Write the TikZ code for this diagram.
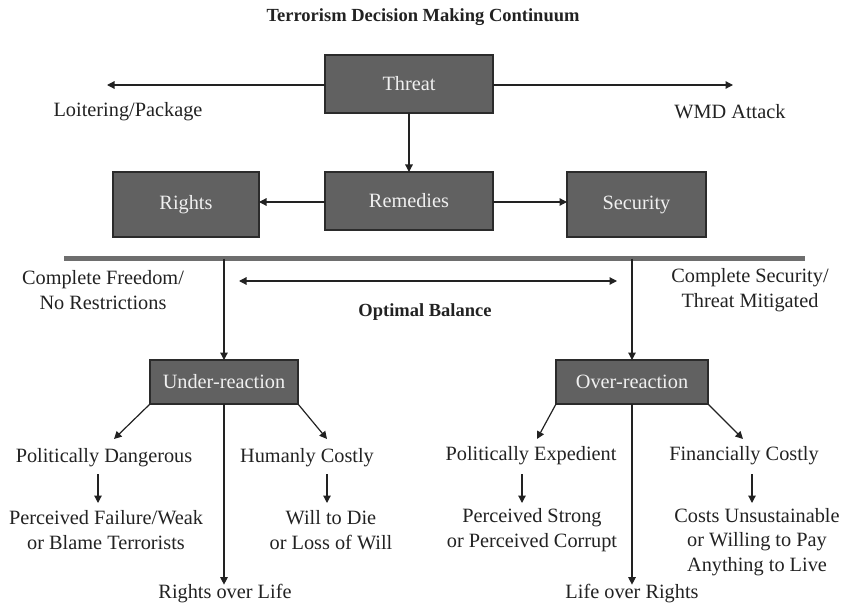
\documentclass[tikz,border=0pt]{standalone}
\usepackage{fontspec}
\setmainfont{Liberation Serif}
\usetikzlibrary{arrows.meta}
\definecolor{boxfill}{HTML}{616161}
\definecolor{boxline}{HTML}{2B2B2B}
\definecolor{barline}{HTML}{6E6E6E}
\definecolor{ink}{HTML}{222222}
\begin{document}
\begin{tikzpicture}[x=1pt,y=-1pt,
  every node/.style={inner sep=0pt, outer sep=0pt, text=ink,
    font=\fontsize{20.3}{24.5}\selectfont},
  darkbox/.style={draw=boxline, line width=1.3pt, fill=boxfill,
    text=white!94!black, align=center},
  lbl/.style={align=center},
  arr/.style={draw=ink, line width=1.2pt, -{Triangle[length=7.5pt,width=7.5pt]}},
  dblarr/.style={draw=ink, line width=1.2pt,
    {Triangle[length=7.5pt,width=7.5pt]}-{Triangle[length=7.5pt,width=7.5pt]}},
  plain/.style={draw=ink, line width=1.2pt}]
\useasboundingbox (0,0) rectangle (846,607);

% title
\node (title) at (423,17) {\bfseries\fontsize{18.5}{22}\selectfont Terrorism Decision Making Continuum};

% upper boxes
\node[darkbox, minimum width=168pt, minimum height=58pt] (threat) at (409,84) {Threat};
\node[darkbox, minimum width=168pt, minimum height=58pt] (remedies) at (409,201) {Remedies};
\node[darkbox, minimum width=146pt, minimum height=65pt] (rights) at (186,204.5) {Rights};
\node[darkbox, minimum width=139pt, minimum height=65pt] (security) at (636.5,204.5) {Security};

% threat range
\coordinate (tl) at (107,85);
\coordinate (tr) at (733,85);
\draw[arr] (threat.west |- tl) -- (tl);
\draw[arr] (threat.east |- tr) -- (tr);
\node (loiter) at (128,112) {Loitering/Package};
\node (wmd) at (730,112) {WMD Attack};

\draw[arr] (threat) -- (remedies);
\draw[arr] (remedies.west |- 0,202) -- (rights.east |- 0,202);
\draw[arr] (remedies.east |- 0,202) -- (security.west |- 0,202);

% continuum bar
\coordinate (barL) at (64,258.5);
\coordinate (barR) at (805,258.5);
\draw[barline, line width=5pt] (barL) -- (barR);

\node[lbl] (freedom) at (103,290) {Complete Freedom/\\No Restrictions};
\node[lbl] (secure) at (750,290) {Complete Security/\\Threat Mitigated};
\coordinate (balL) at (239,281);
\coordinate (balR) at (617,281);
\draw[dblarr] (balL) -- (balR);
\node (optimal) at (425,312) {\bfseries\fontsize{18.5}{22}\selectfont Optimal Balance};

% reaction boxes
\node[darkbox, minimum width=148pt, minimum height=44pt] (under) at (224,382) {Under-reaction};
\node[darkbox, minimum width=152pt, minimum height=44pt] (over) at (632,382) {Over-reaction};
\draw[arr] (under.north |- barL) -- (under.north);
\draw[arr] (over.north |- barL) -- (over.north);

% under-reaction branch
\node (pdanger) at (104,458) {Politically Dangerous};
\node (hcost) at (307,458) {Humanly Costly};
\node[lbl] (pfail) at (106,530) {Perceived Failure/Weak\\or Blame Terrorists};
\node[lbl] (wdie) at (331,530) {Will to Die\\or Loss of Will};
\node (rlife) at (225,594) {Rights over Life};
\draw[arr] (under.south west) -- (114,439);
\draw[arr] (under.south east) -- (327,439);
\draw[arr] (under.south) -- (under.south |- rlife.north);
\draw[arr] (98,474) -- (98,503);
\draw[arr] (327,474) -- (327,503);

% over-reaction branch
\node (pexp) at (531,456) {Politically Expedient};
\node (fcost) at (744,456) {Financially Costly};
\node[lbl] (pstrong) at (532,530) {Perceived Strong\\or Perceived Corrupt};
\node[lbl] (cunsus) at (757,542) {Costs Unsustainable\\or Willing to Pay\\Anything to Live};
\node (lrights) at (632,594) {Life over Rights};
\draw[arr] (over.south west) -- (537,439);
\draw[arr] (over.south east) -- (743,439);
\draw[arr] (over.south) -- (over.south |- lrights.north);
\draw[arr] (522,474) -- (522,503);
\draw[arr] (752,474) -- (752,503);
\end{tikzpicture}
\end{document}
